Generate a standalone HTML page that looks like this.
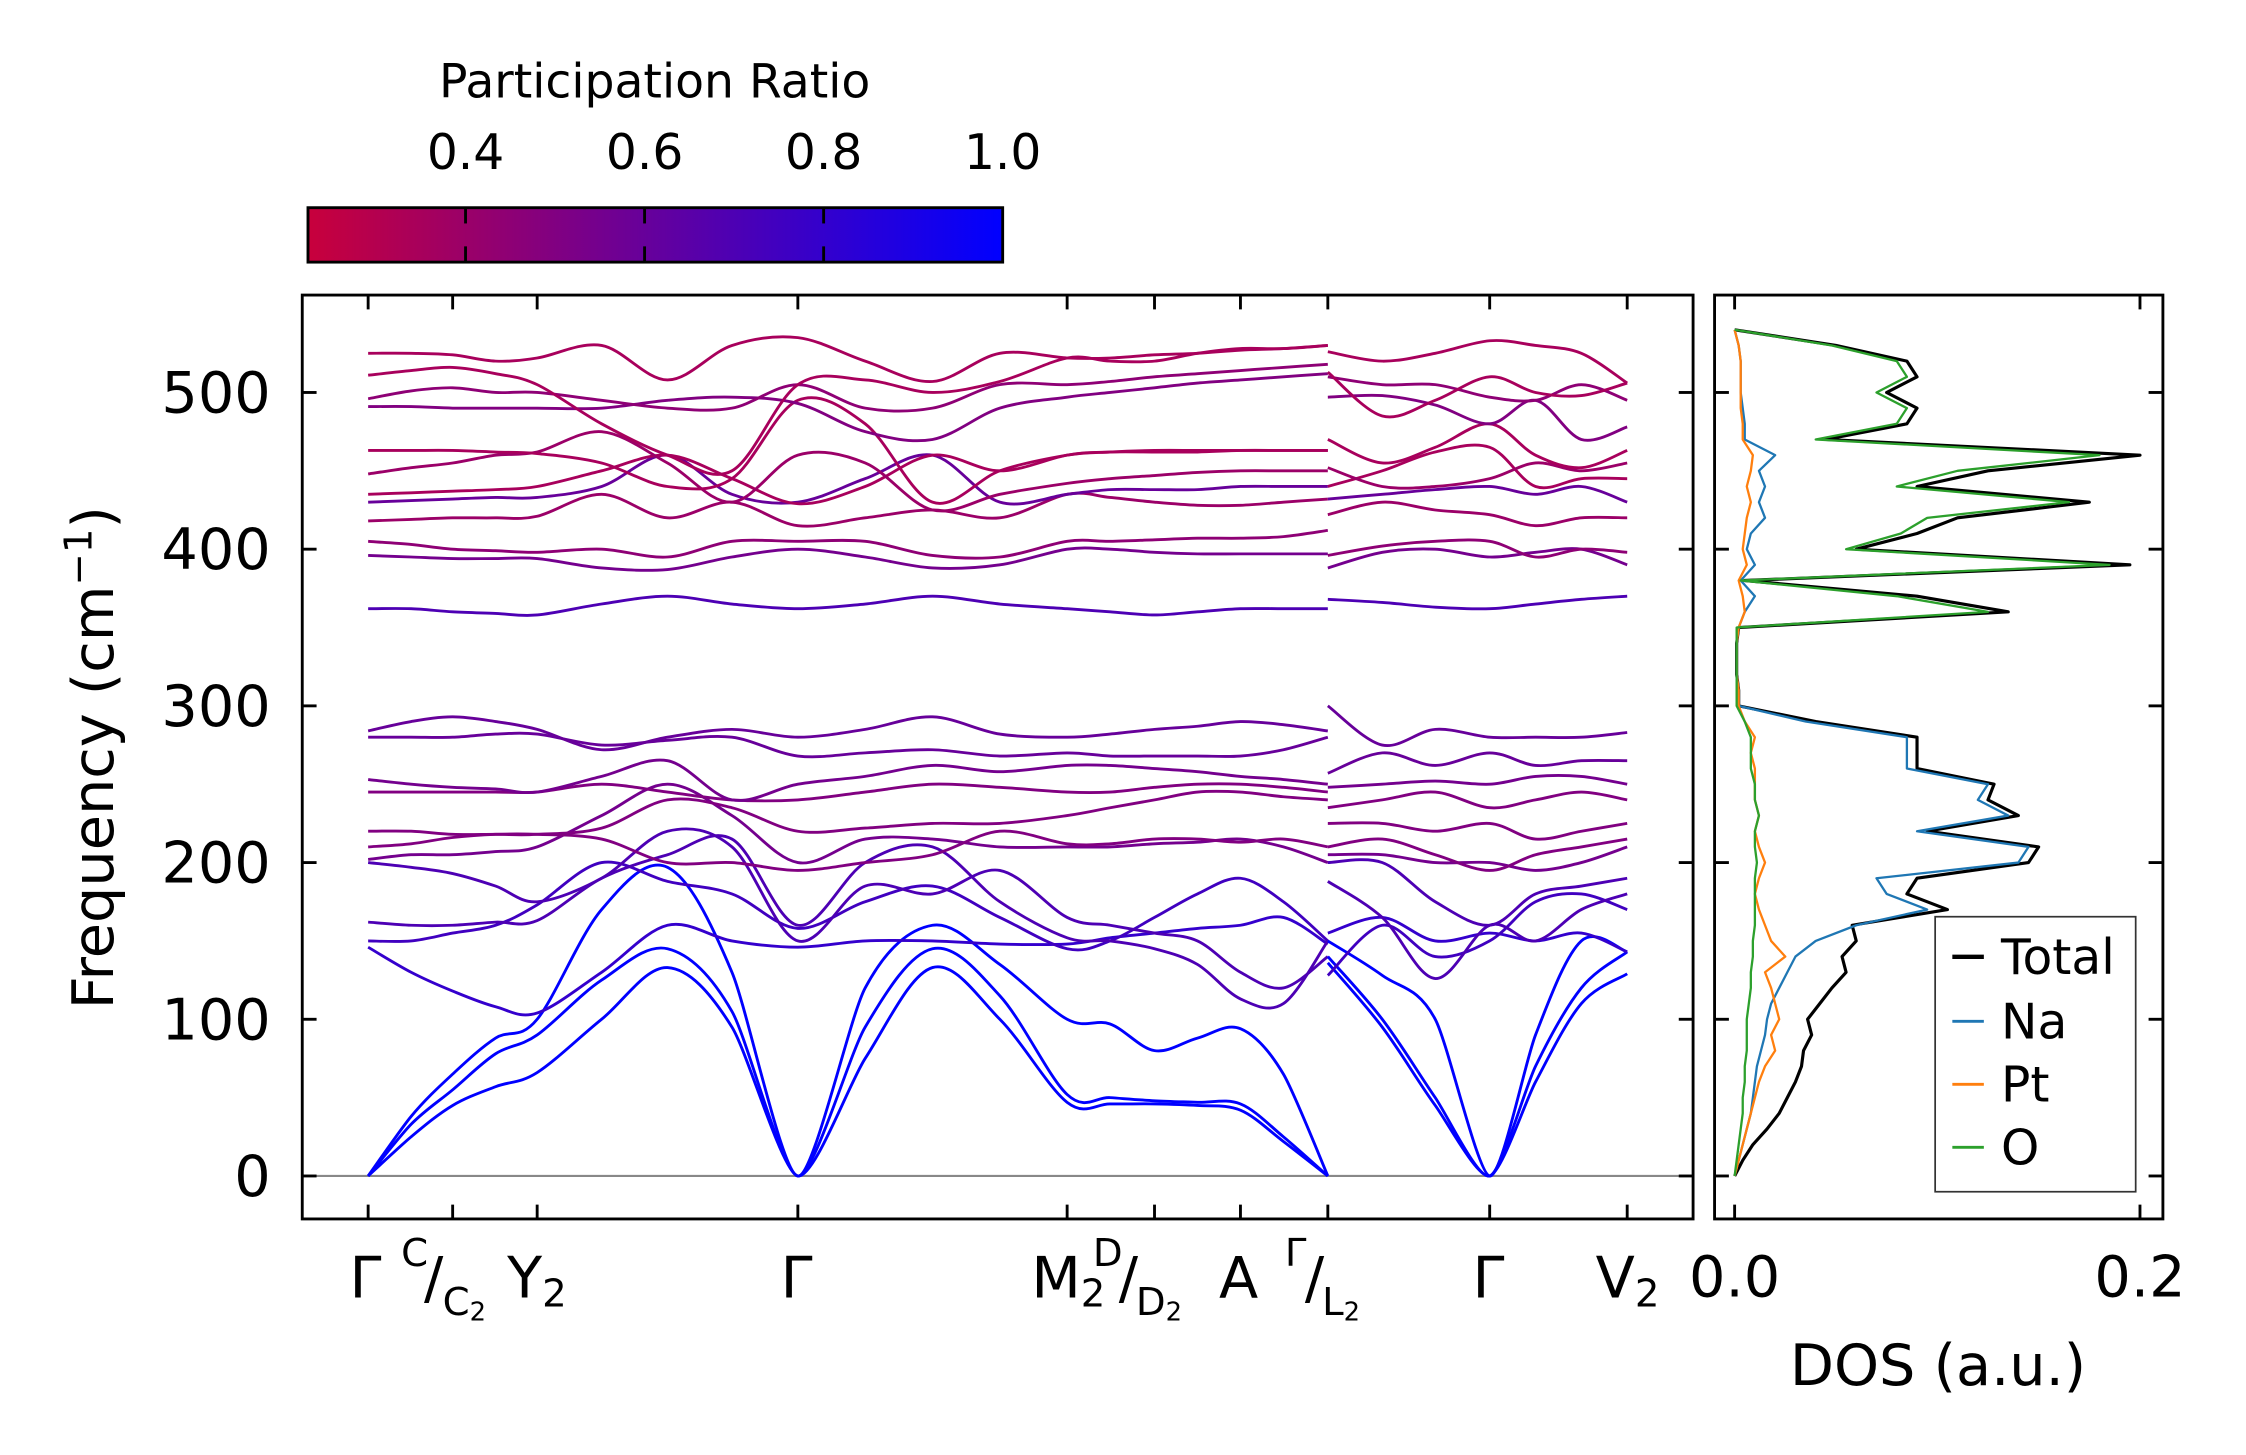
<!DOCTYPE html>
<html><head><meta charset="utf-8"><style>
html,body{margin:0;padding:0;background:#fff;}
svg{display:block;font-family:"DejaVu Sans","Liberation Sans",sans-serif;}
</style></head><body>
<svg id="fig" width="2246" height="1455" viewBox="0 0 1568 1015.8" xmlns="http://www.w3.org/2000/svg">
<defs>
<linearGradient id="cmap" x1="0" x2="1" y1="0" y2="0">
<stop offset="0" stop-color="rgb(200,0,60)"/><stop offset="1" stop-color="rgb(0,0,255)"/>
</linearGradient>
</defs>
<g>
<text x="457" y="68" font-size="33" text-anchor="middle">Participation Ratio</text>
<rect x="215" y="145" width="485" height="38" fill="url(#cmap)" stroke="#000" stroke-width="2"/>
<g id="cbticks"></g>
</g>
<g id="main"></g>
<g id="dos"></g>
</svg>
<script>
// ---- data ----
const kLabelsA = [257,287,316,346,375,420,466,511,557,604,651,698,745,775,806,836,866,896,927];
const kLabelsB = [927,965,1002,1040,1072,1104,1136];
const bandPR = [1,1,1,0.8,0.75,0.7,0.7,0.55,0.5,0.5,0.5,0.55,0.6,0.6,0.7,0.55,0.45,0.4,0.6,0.35,0.4,0.35,0.5,0.45,0.35,0.35];
const bandA = [
[0,25,45,57,66,100,133,95,0,75,133,100,47,46,46,45,42,22,0],
[0,33,55,78,90,125,145,105,0,95,145,115,52,50,48,47,46,25,0],
[0,38,65,88,100,170,197,130,0,120,160,135,100,97,80,88,94,65,0],
[146,130,118,108,104,130,160,150,146,150,150,148,148,152,155,158,160,165,148],
[150,150,155,160,173,200,188,180,158,175,185,165,145,150,165,180,190,175,150],
[162,160,160,162,163,190,205,215,160,200,210,175,152,150,145,135,113,110,150],
[200,197,193,185,175,190,220,210,150,185,180,195,165,160,155,150,130,120,140],
[202,205,205,207,210,230,250,230,200,215,215,210,210,210,212,213,215,210,200],
[210,212,216,218,218,215,200,200,195,200,205,220,212,212,215,215,213,215,210],
[220,220,218,218,218,222,240,235,220,222,225,225,230,235,240,245,245,242,240],
[245,245,245,245,245,250,245,240,240,245,250,248,245,245,248,250,250,248,245],
[253,250,248,247,245,255,265,240,250,255,262,258,262,262,260,258,255,253,250],
[280,280,280,282,282,275,278,280,268,270,272,268,270,268,268,268,268,272,280],
[284,290,293,290,285,272,280,285,280,285,293,282,280,282,285,287,290,288,284],
[362,362,360,359,358,365,370,365,362,365,370,365,362,360,358,360,362,362,362],
[396,395,394,394,394,388,387,395,400,395,388,390,400,400,398,397,397,397,397],
[405,403,400,399,398,400,395,405,405,405,396,395,405,405,406,407,407,408,412],
[418,419,420,420,421,435,420,430,415,420,425,420,435,433,430,428,428,430,432],
[430,431,432,433,433,440,460,435,430,445,460,430,435,438,438,438,440,440,440],
[435,436,437,438,440,450,460,445,429,440,460,450,460,462,462,462,463,463,463],
[448,452,455,460,462,475,455,430,460,455,425,435,442,445,447,449,450,450,450],
[463,463,463,462,461,455,440,445,495,480,430,450,460,462,463,463,463,463,463],
[491,491,490,490,490,490,495,497,493,475,470,490,497,500,503,506,508,510,512],
[496,501,503,500,500,495,490,490,505,490,490,505,505,507,510,512,514,516,518],
[511,514,516,512,505,480,460,450,505,508,500,507,522,520,520,525,528,528,530],
[525,525,524,520,522,530,508,530,535,520,507,525,522,522,524,525,527,528,530]];
const bandB = [
[136,95,45,0,60,110,129],[140,100,50,0,70,120,143],[150,128,100,0,90,150,143],
[155,165,150,155,150,155,143],[128,160,140,150,175,180,170],[188,165,126,160,150,170,180],
[200,200,175,160,180,185,190],[205,205,200,200,195,200,210],[210,215,205,195,205,210,215],
[225,225,220,225,215,220,225],[235,240,245,235,240,245,240],[248,250,252,250,255,255,250],
[257,270,262,270,262,265,265],[300,275,285,280,280,280,283],[368,366,363,362,365,368,370],
[388,398,400,395,398,400,390],[396,402,405,405,395,400,398],[422,430,425,422,415,420,420],
[432,435,438,440,435,440,430],[440,450,462,465,440,445,445],[452,440,440,445,455,450,455],
[470,455,465,480,460,452,463],[497,498,492,480,495,470,478],[510,505,505,497,495,505,495],
[513,485,495,510,500,498,506],[526,520,525,533,530,525,506]];
const yTicks = [0,100,200,300,400,500];
const cbTicks = [0.4,0.6,0.8,1.0];
const dosFreq = [0,10,20,30,40,50,60,70,80,90,100,110,120,130,140,150,160,170,180,190,200,210,220,230,240,250,260,270,280,290,300,310,320,330,340,350,360,370,380,390,400,410,420,430,440,450,460,470,480,490,500,510,520,530,540];
const dosTotal = [0,.004,.009,.016,.022,.026,.03,.033,.034,.038,.036,.042,.048,.055,.053,.06,.058,.105,.085,.09,.145,.15,.095,.14,.125,.128,.09,.09,.09,.04,.002,.002,.001,.001,.001,.002,.135,.09,.005,.195,.06,.09,.11,.175,.09,.125,.2,.045,.085,.09,.075,.09,.085,.05,0];
const dosNa = [0,.002,.004,.006,.008,.009,.01,.011,.013,.015,.016,.018,.022,.026,.03,.04,.06,.095,.075,.07,.14,.145,.09,.135,.12,.125,.085,.085,.085,.035,.002,.002,.001,.001,.001,.002,.005,.01,.003,.01,.006,.008,.015,.012,.015,.012,.02,.005,.005,.004,.003,.003,.003,.002,0];
const dosPt = [0,.002,.004,.006,.008,.01,.012,.015,.02,.018,.022,.02,.018,.015,.025,.018,.015,.012,.01,.012,.015,.012,.01,.012,.01,.01,.01,.008,.01,.005,.002,.002,.001,.001,.001,.002,.005,.004,.002,.006,.004,.005,.006,.008,.006,.008,.009,.004,.004,.003,.003,.003,.003,.002,0];
const dosO = [0,.001,.002,.003,.004,.004,.005,.005,.006,.006,.006,.007,.008,.008,.009,.009,.01,.01,.01,.01,.011,.01,.01,.012,.01,.01,.008,.008,.008,.005,.001,.001,.001,.001,.001,.001,.125,.08,.003,.185,.055,.082,.095,.165,.08,.11,.18,.04,.08,.085,.07,.085,.08,.048,0];
const dosXTicks = [0.0,0.2];

// ---- helpers ----
const NS="http://www.w3.org/2000/svg";
function mk(tag,parent,attrs){const e=document.createElementNS(NS,tag);for(const k in attrs)e.setAttribute(k,attrs[k]);parent.appendChild(e);return e;}
const yOf=f=>821-f*1.094;
const dosX=v=>1211+v*1415;
const cbX=v=>325+(v-0.4)*625;
function prColor(p){const t=Math.max(0,Math.min(1,(p-0.224)/0.776));return `rgb(${Math.round(200*(1-t))},0,${Math.round(60+195*t)})`;}
function smooth(xs,ys){let d=`M${xs[0]},${yOf(ys[0])}`;const n=xs.length;
 for(let i=0;i<n-1;i++){const x0=xs[Math.max(0,i-1)],y0=yOf(ys[Math.max(0,i-1)]),x1=xs[i],y1=yOf(ys[i]),x2=xs[i+1],y2=yOf(ys[i+1]),x3=xs[Math.min(n-1,i+2)],y3=yOf(ys[Math.min(n-1,i+2)]);
  const ac=(ys[i]===0)||(ys[i+1]===0);const s=ac?0.12:1/6;
  d+=` C${x1+(x2-x0)*s},${y1+(y2-y0)*s} ${x2-(x3-x1)*s},${y2-(y3-y1)*s} ${x2},${y2}`;}
 return d;}

// ---- colorbar ticks ----
const cbt=document.getElementById('cbticks');
cbTicks.forEach(v=>{const x=cbX(v);
 if(v<1){const l=mk('line',cbt,{x1:x,x2:x,y1:145,y2:156,stroke:'#000','stroke-width':2});
 
 
 const l2=mk('line',cbt,{x1:x,x2:x,y1:172,y2:183,stroke:'#000','stroke-width':2});
 
 }
 const t=mk('text',cbt,{x:x,y:118,'font-size':34,'text-anchor':'middle'});t.textContent=v.toFixed(1);
 
 
});

// ---- main panel ----
const m=document.getElementById('main');
const zl=mk('line',m,{x1:211,x2:1182,y1:yOf(0),y2:yOf(0),stroke:'#888','stroke-width':1.5});


bandA.forEach((b,i)=>{const p=mk('path',m,{d:smooth(kLabelsA,b),fill:'none',stroke:prColor(bandPR[i]),'stroke-width':2});
 
 });
bandB.forEach((b,i)=>{const p=mk('path',m,{d:smooth(kLabelsB,b),fill:'none',stroke:prColor(bandPR[i]),'stroke-width':2});
 
 });
const frame=mk('rect',m,{x:211,y:206,width:971,height:645,fill:'none',stroke:'#000','stroke-width':2});


yTicks.forEach(f=>{const y=yOf(f);
 [[211,221],[1172,1182],[1197,1207],[1500,1510]].forEach(([a,b])=>{const l=mk('line',m,{x1:a,x2:b,y1:y,y2:y,stroke:'#000','stroke-width':2});
  
  });
 const t=mk('text',m,{x:189,y:y+14,'font-size':40,'text-anchor':'end'});t.textContent=f;
 
 });
[257,316,375,557,745,806,866,927,1040,1136].forEach(x=>{
 [[206,216],[841,851]].forEach(([a,b])=>{const l=mk('line',m,{x1:x,x2:x,y1:a,y2:b,stroke:'#000','stroke-width':2});
 
 });});
const yl=mk('text',m,{x:0,y:0,'font-size':40,'text-anchor':'middle',transform:'translate(79,529) rotate(-90)'});
yl.innerHTML='Frequency (cm<tspan dy="-15" font-size="27">−1</tspan><tspan dy="15">)</tspan>';


const xlab=mk('text',m,{x:0,y:906,'font-size':40});


xlab.innerHTML=
 '<tspan x="244">Γ</tspan>'+
 '<tspan x="280" dy="-22" font-size="27">C</tspan><tspan x="296" dy="22">/</tspan><tspan x="309" dy="12" font-size="27">C</tspan><tspan font-size="18" dy="4">2</tspan><tspan x="354" dy="-16">Y</tspan><tspan font-size="27" dy="6">2</tspan>'+
 '<tspan x="545" dy="-6">Γ</tspan>'+
 '<tspan x="720">M</tspan><tspan font-size="27" dy="6">2</tspan><tspan x="763" dy="-28" font-size="27">D</tspan><tspan x="781" dy="22">/</tspan><tspan x="793" dy="12" font-size="27">D</tspan><tspan font-size="18" dy="4">2</tspan><tspan x="851" dy="-16">A</tspan>'+
 '<tspan x="897" dy="-22" font-size="27">Γ</tspan><tspan x="911" dy="22">/</tspan><tspan x="923" dy="12" font-size="27">L</tspan><tspan font-size="18" dy="4">2</tspan>'+
 '<tspan x="1028" dy="-16">Γ</tspan><tspan x="1114">V</tspan><tspan font-size="27" dy="6">2</tspan>';

// ---- DOS panel ----
const d=document.getElementById('dos');
function dosLine(vals,color,name,w){const pts=vals.map((v,i)=>`${dosX(v)},${yOf(dosFreq[i])}`).join(' ');
 const p=mk('polyline',d,{points:pts,fill:'none',stroke:color,'stroke-width':w,'stroke-linejoin':'round'});
 
 }
dosLine(dosTotal,'#000','dos-total',2.2);
dosLine(dosNa,'#1f77b4','dos-na',1.6);
dosLine(dosPt,'#ff7f0e','dos-pt',1.6);
dosLine(dosO,'#2ca02c','dos-o',1.6);
const df=mk('rect',d,{x:1197,y:206,width:313,height:645,fill:'none',stroke:'#000','stroke-width':2});


dosXTicks.forEach(v=>{const x=dosX(v);
 [[206,216],[841,851]].forEach(([a,b])=>{const l=mk('line',d,{x1:x,x2:x,y1:a,y2:b,stroke:'#000','stroke-width':2});
 
 });
 const t=mk('text',d,{x:x,y:905,'font-size':40,'text-anchor':'middle'});t.textContent=v.toFixed(1);
 
 });
const dt=mk('text',d,{x:1353,y:967,'font-size':40,'text-anchor':'middle'});dt.textContent='DOS (a.u.)';


const lg=mk('g',d,{});


mk('rect',lg,{x:1351,y:640,width:140,height:192,fill:'#fff',stroke:'#333','stroke-width':1.2});
[['Total','#000',668],['Na','#1f77b4',713],['Pt','#ff7f0e',757],['O','#2ca02c',801]].forEach(([n,c,y])=>{
 const l=mk('line',lg,{x1:1363,x2:1385,y1:y,y2:y,stroke:c,'stroke-width':n==='Total'?3:2});
 
 
 const t=mk('text',lg,{x:1397,y:y+12,'font-size':34});t.textContent=n;
 
 });
</script>
</body></html>
